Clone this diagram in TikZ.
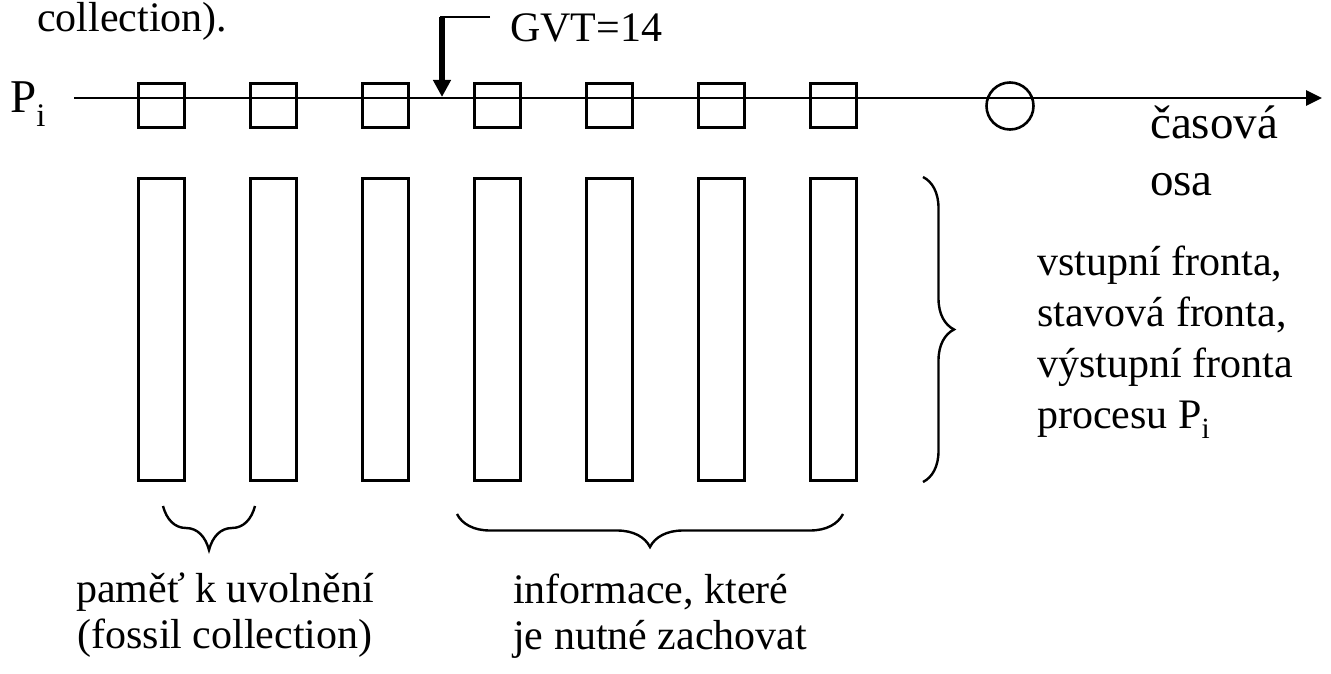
\documentclass[tikz,border=0pt]{standalone}
\usepackage{fontspec}
\setmainfont{Liberation Serif}
\usepackage{xcolor}
\usetikzlibrary{arrows.meta,decorations.pathreplacing}
\definecolor{figink}{HTML}{000000}

\begin{document}
\begin{tikzpicture}[x=1pt, y=-1pt, >={Triangle[length=16pt,width=15pt]},
                    every node/.style={figink, inner sep=0pt, font=\fontsize{42}{46}\selectfont},
                    slot/.style={draw, line width=2.6pt, minimum width=46pt, minimum height=44pt},
                    queue/.style={draw, line width=2.6pt, minimum width=46pt, minimum height=302pt},
                    evt/.style={draw, circle, line width=2.6pt, minimum size=47pt},
                    big/.style={font=\fontsize{47}{57}\selectfont},
                    brc/.style={figink, line width=2.4pt, decorate,
                                decoration={brace, amplitude=#1}}]

  \useasboundingbox (0,0) rectangle (1331,674);

  %% 上一段文字的結尾
  \node[anchor=base west] (coll) at (37,32) {collection).};

  %% 時間軸
  \coordinate (osa0) at (74,98);
  \coordinate (osa1) at (1322,98);
  \draw[figink, line width=2.6pt, ->] (osa0) -- (osa1);
  \node[big, anchor=base west] (pi) at (10,113) {P\textsubscript{i}};
  \node[big, anchor=base west, align=left] (osa) at (1150,195) {časová\\osa};

  %% 軸上的事件
  \node[slot] (s1) at (161.5,105.5) {};
  \node[slot] (s2) at (273.5,105.5) {};
  \node[slot] (s3) at (385.5,105.5) {};
  \node[slot] (s4) at (497.5,105.5) {};
  \node[slot] (s5) at (609.5,105.5) {};
  \node[slot] (s6) at (721.5,105.5) {};
  \node[slot] (s7) at (833.5,105.5) {};
  \node[evt] (ev) at (1010,106) {};

  %% GVT 指標
  \node[anchor=base west] (gvt) at (510,42) {GVT=14};
  \coordinate (gvt0) at (490,17);
  \coordinate (gvt1) at (442,17);
  \coordinate (gvt2) at (442,97);
  \draw[figink, line width=2.6pt] (gvt0) -- (440,17);
  \draw[figink, line width=6pt, -{Triangle[length=17pt,width=17pt]}] (gvt1) -- (gvt2);

  %% 各事件的佇列
  \node[queue] (q1) at (161.5,329.5) {};
  \node[queue] (q2) at (273.5,329.5) {};
  \node[queue] (q3) at (385.5,329.5) {};
  \node[queue] (q4) at (497.5,329.5) {};
  \node[queue] (q5) at (609.5,329.5) {};
  \node[queue] (q6) at (721.5,329.5) {};
  \node[queue] (q7) at (833.5,329.5) {};

  %% 右側大括號與說明
  \draw[brc=31pt] (923,177) -- (923,482);
  \node[anchor=base west, align=left, font=\fontsize{42}{51}\selectfont] (fronty) at (1037,428)
    {vstupní fronta,\\stavová fronta,\\výstupní fronta\\procesu P\textsubscript{i}};

  %% 下方兩個大括號與說明
  \draw[brc=44pt] (255,506) -- (163,506);
  \draw[brc=33pt] (843,514) -- (457,514);
  \node[anchor=base, align=center] (uvol) at (225,648)
    {paměť k uvolnění\\(fossil collection)};
  \node[anchor=base west, align=left] (zach) at (513,649)
    {informace, které\\je nutné zachovat};

\end{tikzpicture}
\end{document}
